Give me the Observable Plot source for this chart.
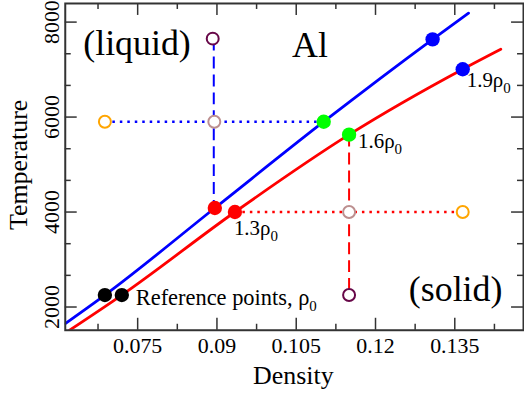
<!DOCTYPE html>
<html>
<head>
<meta charset="utf-8">
<script src="https://cdn.jsdelivr.net/npm/d3@7"></script>
<script src="https://cdn.jsdelivr.net/npm/@observablehq/plot@0.6"></script>
<style>
  html, body { margin: 0; padding: 0; overflow: hidden; background: #fff; }
</style>
</head>
<body>
<div id="chart"></div>
<script>
// ---- data ----
const xTicks = [0.075, 0.09, 0.105, 0.12, 0.135];
const xTickLabels = ["0.075", "0.09", "0.105", "0.12", "0.135"];
const xMinorTicks = [0.0675, 0.0825, 0.0975, 0.1125, 0.1275, 0.1425];
const yTicks = [2000, 4000, 6000, 8000];
const yTickLabels = ["2000", "4000", "6000", "8000"];
const yMinorTicks = [2666.7, 3333.3, 4666.7, 5333.3, 6666.7, 7333.3];

// liquid (blue) and solid (red) curves
const blueLineX = [0.0613, 0.0688, 0.0896, 0.1102, 0.1308, 0.1376];
const blueLineY = [1652, 2252, 4085, 5902, 7637, 8189];
const redLineX = [0.0621, 0.0720, 0.0934, 0.1150, 0.1365, 0.1437];
const redLineY = [1511, 2252, 4001, 5630, 7008, 7428];

// filled points
const refX = [0.0688, 0.0720], refY = [2252, 2252];
const p13X = [0.0896, 0.0934], p13Y = [4085, 4001];
const p16X = [0.1102, 0.1150], p16Y = [5902, 5630];
const p19X = [0.1308, 0.1365], p19Y = [7637, 7008];

// open points
const openX = [0.0892, 0.0688, 0.0895, 0.1150, 0.1365, 0.1150];
const openY = [7652, 5902, 5902, 4001, 4001, 2252];
const openColor = ["#670748", "#ffa500", "#bc8f8f", "#bc8f8f", "#ffa500", "#670748"];

// guide lines
const blueDashX = [0.0894, 0.0894], blueDashY = [7652, 4085];
const blueDotX = [0.0688, 0.1102], blueDotY = [5902, 5902];
const redDotX = [0.0934, 0.1365], redDotY = [4001, 4001];
const redDashX = [0.1150, 0.1150], redDashY = [5630, 2252];

// region labels
const regionText = ["(liquid)", "Al", "(solid)"];
const regionX = [0.0647, 0.1042, 0.1263];
const regionY = [7302, 7260, 2120];

// ---- build tables ----
const pts = (xs, ys) => xs.map((x, i) => ({x, y: ys[i]}));
const xTickTable = xTicks.map((v, i) => ({v, label: xTickLabels[i]}));
const yTickTable = yTicks.map((v, i) => ({v, label: yTickLabels[i]}));
const openTable = openX.map((x, i) => ({x, y: openY[i], c: openColor[i]}));
const regionTable = regionText.map((t, i) => ({t, x: regionX[i], y: regionY[i]}));

const font = "Liberation Serif, Times New Roman, serif";
const axisColor = "#333";
const W = 526, H = 393, mL = 65, mR = 1, mT = 3, mB = 62;
const fw = W - mL - mR, fh = H - mT - mB;

const chart = Plot.plot({
  width: W, height: H,
  marginLeft: mL, marginRight: mR, marginTop: mT, marginBottom: mB,
  style: {fontFamily: font, background: "#fff", overflow: "visible"},
  x: {domain: [0.0613, 0.148], axis: null},
  y: {domain: [1511, 8392], axis: null},
  marks: [
    // ticks (inward, all four sides)
    Plot.tickX(xTicks, {x: d => d, insetTop: fh - 12, stroke: axisColor, strokeWidth: 1.5}),
    Plot.tickX(xTicks, {x: d => d, insetBottom: fh - 12, stroke: axisColor, strokeWidth: 1.5}),
    Plot.tickX(xMinorTicks, {x: d => d, insetTop: fh - 6, stroke: axisColor, strokeWidth: 1.5}),
    Plot.tickX(xMinorTicks, {x: d => d, insetBottom: fh - 6, stroke: axisColor, strokeWidth: 1.5}),
    Plot.tickY(yTicks, {y: d => d, insetRight: fw - 12, stroke: axisColor, strokeWidth: 1.5}),
    Plot.tickY(yTicks, {y: d => d, insetLeft: fw - 12, stroke: axisColor, strokeWidth: 1.5}),
    Plot.tickY(yMinorTicks, {y: d => d, insetRight: fw - 6, stroke: axisColor, strokeWidth: 1.5}),
    Plot.tickY(yMinorTicks, {y: d => d, insetLeft: fw - 6, stroke: axisColor, strokeWidth: 1.5}),

    // tick labels
    Plot.text(xTickTable, {x: "v", text: "label", frameAnchor: "bottom", lineAnchor: "bottom",
      dy: 23, fontSize: 22, fill: "#000"}),
    Plot.text(yTickTable, {y: "v", text: "label", frameAnchor: "left", lineAnchor: "bottom",
      rotate: -90, textAnchor: "middle", dx: -6.5, fontSize: 22, fill: "#000"}),
    // axis titles
    Plot.text(["Density"], {text: d => d, frameAnchor: "bottom", lineAnchor: "bottom",
      dy: 54, dx: -1, fontSize: 26, fill: "#000"}),
    Plot.text(["Temperature"], {text: d => d, frameAnchor: "left", lineAnchor: "bottom",
      rotate: -90, textAnchor: "middle", dx: -38, dy: -2, fontSize: 26, fill: "#000"}),

    // main curves
    Plot.line(pts(blueLineX, blueLineY), {x: "x", y: "y", stroke: "#0000ff", strokeWidth: 2.8,
      curve: "monotone-x", clip: true}),
    Plot.line(pts(redLineX, redLineY), {x: "x", y: "y", stroke: "#ff0000", strokeWidth: 2.8,
      curve: "monotone-x", clip: true}),

    // guides
    Plot.line(pts(blueDashX, blueDashY), {x: "x", y: "y", stroke: "#0000ff", strokeWidth: 2,
      strokeDasharray: "12,6", strokeLinecap: "butt"}),
    Plot.line(pts(blueDotX, blueDotY), {x: "x", y: "y", stroke: "#0000ff", strokeWidth: 2.5,
      strokeDasharray: "2.5,5", strokeLinecap: "butt"}),
    Plot.line(pts(redDotX, redDotY), {x: "x", y: "y", stroke: "#ff0000", strokeWidth: 2.5,
      strokeDasharray: "2.5,5", strokeLinecap: "butt"}),
    Plot.line(pts(redDashX, redDashY), {x: "x", y: "y", stroke: "#ff0000", strokeWidth: 2,
      strokeDasharray: "12,6", strokeLinecap: "butt"}),

    // open circles
    Plot.dot(openTable, {x: "x", y: "y", r: 6, stroke: "c", fill: "#fff", strokeWidth: 2}),

    // filled points
    Plot.dot(pts(refX, refY), {x: "x", y: "y", r: 7.2, fill: "#000"}),
    Plot.dot(pts(p13X, p13Y), {x: "x", y: "y", r: 7.2, fill: "#ff0000"}),
    Plot.dot(pts(p16X, p16Y), {x: "x", y: "y", r: 7.2, fill: "#00ff00"}),
    Plot.dot(pts(p19X, p19Y), {x: "x", y: "y", r: 7.2, fill: "#0000ff"}),

    // point labels
    Plot.text([{x: p19X[1], y: p19Y[1]}], {x: "x", y: "y", text: () => "1.9ρ_0",
      textAnchor: "start", lineAnchor: "bottom", dx: 4, dy: 18, fontSize: 21, fill: "#000"}),
    Plot.text([{x: p16X[1], y: p16Y[1]}], {x: "x", y: "y", text: () => "1.6ρ_0",
      textAnchor: "start", lineAnchor: "bottom", dx: 9, dy: 13.5, fontSize: 21, fill: "#000"}),
    Plot.text([{x: p13X[1], y: p13Y[1]}], {x: "x", y: "y", text: () => "1.3ρ_0",
      textAnchor: "start", lineAnchor: "bottom", dx: -1, dy: 23, fontSize: 21, fill: "#000"}),
    Plot.text([{x: refX[1], y: refY[1]}], {x: "x", y: "y", text: () => "Reference points, ρ_0",
      textAnchor: "start", lineAnchor: "bottom", dx: 14, dy: 10, fontSize: 22.5, fill: "#000"}),

    // region labels
    Plot.text(regionTable, {x: "x", y: "y", text: "t", textAnchor: "start", lineAnchor: "bottom",
      fontSize: 36, fill: "#000"}),

    Plot.frame({stroke: axisColor, strokeWidth: 2})
  ]
});

// subscripts: "a_b" -> a with subscript b
const ns = "http://www.w3.org/2000/svg";
chart.querySelectorAll("text").forEach(t => {
  const s = t.textContent;
  const k = s.indexOf("_");
  if (k < 0) return;
  while (t.firstChild) t.removeChild(t.firstChild);
  const a = document.createElementNS(ns, "tspan");
  a.textContent = s.slice(0, k);
  const b = document.createElementNS(ns, "tspan");
  b.textContent = s.slice(k + 1);
  b.setAttribute("font-size", "15");
  b.setAttribute("dy", "6");
  t.append(a, b);
});

document.getElementById("chart").appendChild(chart);
</script>
</body>
</html>
